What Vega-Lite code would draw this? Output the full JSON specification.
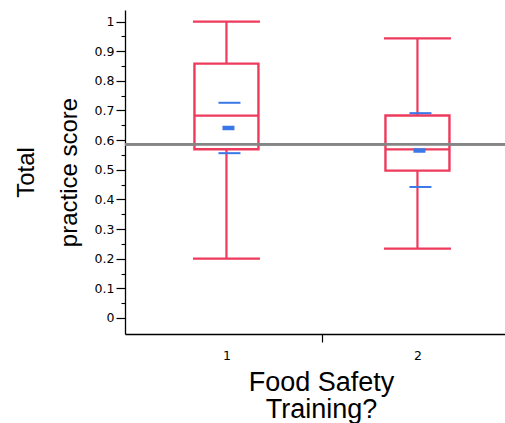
{
  "$schema": "https://vega.github.io/schema/vega-lite/v6.json",
  "width": 392,
  "height": 324,
  "autosize": "none",
  "padding": {"left": 125, "top": 10, "right": 0, "bottom": 89},
  "background": "white",
  "config": {
    "view": {"stroke": null},
    "axis": {"domainColor": "#000000", "domainWidth": 1.3, "tickColor": "#000000", "tickWidth": 1.2, "labelFont": "DejaVu Sans", "labelFontSize": 12.5, "labelColor": "#000000", "titleFont": "Liberation Sans", "titleColor": "#000000", "titleFontWeight": "normal", "grid": false}
  },
  "data": {"values": [
    {"training": 1, "lo": 0.200, "q1": 0.569, "med": 0.683, "q3": 0.858, "hi": 1.000, "mean": 0.641, "cilo": 0.556, "cihi": 0.726, "overall": 0.586},
    {"training": 2, "lo": 0.234, "q1": 0.497, "med": 0.569, "q3": 0.683, "hi": 0.943, "mean": 0.565, "cilo": 0.442, "cihi": 0.691, "overall": 0.586}
  ]},
  "resolve": {"axis": {"y": "independent"}},
  "layer": [
    {
      "mark": {"type": "rule", "color": "#858585", "strokeWidth": 2.6},
      "encoding": {
        "y": {"field": "overall", "type": "quantitative", "scale": {"domain": [-0.054, 1.039], "nice": false, "zero": false},
          "axis": {
            "orient": "left",
            "title": null,
            "domain": false,
            "labels": false,
            "values": [0.05, 0.15, 0.25, 0.35, 0.45, 0.55, 0.65, 0.75, 0.85, 0.95],
            "tickSize": 4,
            "tickWidth": 1.1
          }
        }
      }
    },
    {
      "mark": {"type": "rule", "color": "#EE3A5C", "strokeWidth": 2.2},
      "encoding": {
        "x": {"field": "training", "type": "quantitative", "scale": {"domain": [0.495, 2.495], "nice": false, "zero": false},
          "axis": {
            "title": ["Food Safety", "Training?"],
            "titleFontSize": 27,
            "titleLineHeight": 27,
            "titleBaseline": "alphabetic",
            "titleY": 56,
            "values": [1, 1.5, 2],
            "labelExpr": "datum.value == 1.5 ? '' : format(datum.value, 'd')",
            "tickSize": 8,
            "tickOpacity": {"condition": {"test": "datum.value == 1.5", "value": 1}, "value": 0},
            "labelPadding": 7,
            "labelFontSize": 12.5
          }
        },
        "y": {"field": "lo", "type": "quantitative",
          "axis": {
            "orient": "left",
            "title": ["Total", "practice score"],
            "titleFontSize": 24,
            "titleLineHeight": 43,
            "titleAngle": -90,
            "titleAlign": "center",
            "titleBaseline": "alphabetic",
            "titleX": -92,
            "titleY": 162,
            "values": [0, 0.1, 0.2, 0.3, 0.4, 0.5, 0.6, 0.7, 0.8, 0.9, 1],
            "format": ".1~f",
            "tickSize": 9,
            "labelOverlap": false,
            "labelPadding": 2,
            "labelFontSize": 12.5
          }
        },
        "y2": {"field": "hi"}
      }
    },
    {
      "mark": {"type": "bar", "fill": "white", "stroke": "#EE3A5C", "strokeWidth": 2.4, "size": 64},
      "encoding": {
        "x": {"field": "training", "type": "quantitative"},
        "y": {"field": "q1", "type": "quantitative", "axis": null},
        "y2": {"field": "q3"}
      }
    },
    {
      "mark": {"type": "rule", "color": "#858585", "strokeWidth": 2.6},
      "encoding": {"y": {"field": "overall", "type": "quantitative", "axis": null}}
    },
    {
      "mark": {"type": "tick", "orient": "horizontal", "color": "#EE3A5C", "opacity": 1, "size": 64, "thickness": 2.2},
      "encoding": {
        "x": {"field": "training", "type": "quantitative"},
        "y": {"field": "med", "type": "quantitative", "axis": null}
      }
    },
    {
      "mark": {"type": "tick", "orient": "horizontal", "color": "#EE3A5C", "opacity": 1, "size": 67, "thickness": 2.2},
      "encoding": {
        "x": {"field": "training", "type": "quantitative"},
        "y": {"field": "hi", "type": "quantitative", "axis": null}
      }
    },
    {
      "mark": {"type": "tick", "orient": "horizontal", "color": "#EE3A5C", "opacity": 1, "size": 67, "thickness": 2.2},
      "encoding": {
        "x": {"field": "training", "type": "quantitative"},
        "y": {"field": "lo", "type": "quantitative", "axis": null}
      }
    },
    {
      "mark": {"type": "tick", "orient": "horizontal", "color": "#3B78E7", "opacity": 1, "size": 22, "thickness": 2, "xOffset": 3},
      "encoding": {
        "x": {"field": "training", "type": "quantitative"},
        "y": {"field": "cihi", "type": "quantitative", "axis": null}
      }
    },
    {
      "mark": {"type": "tick", "orient": "horizontal", "color": "#3B78E7", "opacity": 1, "size": 22, "thickness": 2, "xOffset": 3},
      "encoding": {
        "x": {"field": "training", "type": "quantitative"},
        "y": {"field": "cilo", "type": "quantitative", "axis": null}
      }
    },
    {
      "mark": {"type": "tick", "orient": "horizontal", "color": "#3B78E7", "opacity": 1, "size": 12, "thickness": 4.5, "xOffset": 2},
      "encoding": {
        "x": {"field": "training", "type": "quantitative"},
        "y": {"field": "mean", "type": "quantitative", "axis": null}
      }
    }
  ]
}
